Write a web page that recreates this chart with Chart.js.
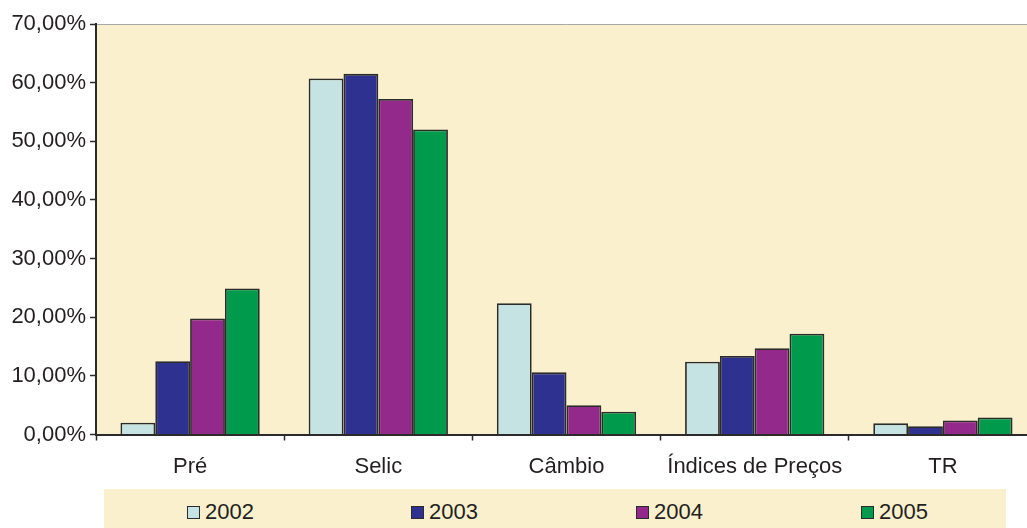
<!DOCTYPE html>
<html>
<head>
<meta charset="utf-8">
<script src="https://cdn.jsdelivr.net/npm/chart.js@4/dist/chart.umd.min.js"></script>
<style>
  html, body { margin: 0; padding: 0; background: #ffffff; overflow: hidden; }
  #wrap { position: relative; width: 1027px; height: 528px; overflow: hidden; }
  #box { position: absolute; left: 0; top: 0; width: 1040px; height: 484px; }
  #legend {
    position: absolute; left: 104px; top: 489px; width: 902px; height: 39px;
    background: #faf0cd;
  }
  .item {
    position: absolute; top: 3px; height: 39px; display: flex; align-items: center;
    font-family: "Liberation Sans", Arial, sans-serif; font-size: 22px; color: #231f20;
  }
  .sw {
    width: 11px; height: 11px; border: 1px solid #2b2b2b; margin-right: 5px; margin-top: 1px;
  }
</style>
</head>
<body>
<div id="wrap">
  <div id="box"><canvas id="c" width="1040" height="484"></canvas></div>
  <div id="legend"></div>
</div>
<script>
// Share of federal debt by index type, per year (percent)
const categories = ['Pré', 'Selic', 'Câmbio', 'Índices de Preços', 'TR'];
const years = ['2002', '2003', '2004', '2005'];
const values2002 = [2.0, 60.7, 22.4, 12.4, 1.9];
const values2003 = [12.5, 61.5, 10.6, 13.4, 1.4];
const values2004 = [19.8, 57.2, 5.0, 14.7, 2.4];
const values2005 = [24.9, 52.0, 3.9, 17.2, 2.9];
const yTicks = [0, 10, 20, 30, 40, 50, 60, 70];

const colors = ['#c5e3e2', '#2e318f', '#93298b', '#009a4d'];
const series = [values2002, values2003, values2004, values2005];

const fontFamily = '"Liberation Sans", Arial, sans-serif';
const textColor = '#231f20';
const axisColor = '#2b2b2b';

const plotBackground = {
  id: 'plotBackground',
  beforeDraw(chart) {
    const { ctx, chartArea: a } = chart;
    ctx.save();
    ctx.fillStyle = '#faf0cd';
    ctx.fillRect(a.left, a.top, a.right - a.left, a.bottom - a.top);
    ctx.strokeStyle = '#a8a8a8';
    ctx.lineWidth = 1;
    ctx.beginPath();
    ctx.moveTo(a.left, a.top + 0.5);
    ctx.lineTo(a.right, a.top + 0.5);
    ctx.stroke();
    ctx.restore();
  }
};

const chart = new Chart(document.getElementById('c'), {
  type: 'bar',
  data: {
    labels: categories,
    datasets: years.map((y, i) => ({
      label: y,
      data: series[i],
      backgroundColor: colors[i],
      borderColor: axisColor,
      borderWidth: 1.8,
      borderSkipped: 'start',
      categoryPercentage: 0.74,
      barPercentage: 1.0
    }))
  },
  options: {
    responsive: false,
    animation: false,
    devicePixelRatio: 1,
    layout: { padding: { left: 0, right: 3, top: 24, bottom: 0 } },
    plugins: { legend: { display: false }, tooltip: { enabled: false } },
    scales: {
      x: {
        offset: true,
        grid: {
          offset: true, drawOnChartArea: false, drawTicks: true,
          tickLength: 6, tickColor: axisColor, tickWidth: 1.5
        },
        border: { color: axisColor, width: 2 },
        ticks: {
          color: textColor, padding: 13,
          font: { family: fontFamily, size: 22 },
          maxRotation: 0, autoSkip: false
        },
        afterFit(scale) { scale.height = 49.5; }
      },
      y: {
        min: 0, max: 70,
        afterBuildTicks(scale) { scale.ticks = yTicks.map(v => ({ value: v })); },
        grid: {
          drawOnChartArea: false, drawTicks: true,
          tickLength: 6, tickColor: axisColor, tickWidth: 1.5
        },
        border: { color: axisColor, width: 2 },
        ticks: {
          color: textColor, padding: 4,
          font: { family: fontFamily, size: 22 },
          callback: v => v.toFixed(2).replace('.', ',') + '%'
        },
        afterFit(scale) { scale.width = 96; }
      }
    }
  },
  plugins: [plotBackground]
});

// Legend strip below the plot, built from the same series
const legend = document.getElementById('legend');
const legendX = [83, 307, 532, 757];
years.forEach((y, i) => {
  const item = document.createElement('div');
  item.className = 'item';
  item.style.left = legendX[i] + 'px';
  const sw = document.createElement('span');
  sw.className = 'sw';
  sw.style.background = colors[i];
  const t = document.createElement('span');
  t.textContent = y;
  item.appendChild(sw);
  item.appendChild(t);
  legend.appendChild(item);
});
</script>
</body>
</html>
